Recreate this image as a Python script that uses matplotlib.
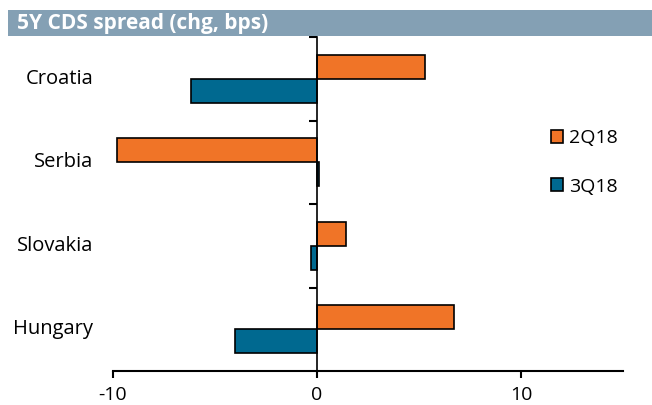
import numpy as np
import matplotlib
matplotlib.use('Agg')
import matplotlib.pyplot as plt
from matplotlib.patches import Rectangle, Patch
import matplotlib.transforms as mtransforms

plt.rcParams['font.family'] = ['Open Sans', 'DejaVu Sans']

# data
countries = ['Croatia', 'Serbia', 'Slovakia', 'Hungary']
q2_18 = [5.3, -9.8, 1.4, 6.7]
q3_18 = [-6.2, 0.1, -0.3, -4.0]
series_names = ['2Q18', '3Q18']
xticks = [-10, 0, 10]

orange = '#F07427'
blue = '#006990'
header_col = '#84A0B4'

fig = plt.figure(figsize=(6.52, 4.05), dpi=100)
ax = fig.add_axes([113 / 652, 1 - 371 / 405, 510 / 652, 334 / 405])

# top category first
y = np.arange(len(countries))[::-1]
h = 0.29
ax.barh(y + h / 2, q2_18, height=h, color=orange, edgecolor='black', linewidth=1.2, label=series_names[0])
ax.barh(y - h / 2, q3_18, height=h, color=blue, edgecolor='black', linewidth=1.2, label=series_names[1])

ax.set_xlim(-10, 15)
ax.set_ylim(-0.5, len(countries) - 0.5)

for s in ['top', 'right']:
    ax.spines[s].set_visible(False)
ax.spines['left'].set_position(('data', 0))
ax.spines['left'].set_linewidth(1.2)
ax.spines['bottom'].set_linewidth(1.5)

ax.set_xticks(xticks)
ax.set_xticklabels([str(v) for v in xticks], fontsize=14)
ax.tick_params(axis='x', direction='out', length=5, width=1.5, pad=6)

ax.set_yticks(np.arange(len(countries)) + 0.5)
ax.set_yticklabels([])
ax.tick_params(axis='y', direction='out', length=6, width=1.5)

trans = mtransforms.blended_transform_factory(ax.transAxes, ax.transData)
for yi, name in zip(y, countries):
    ax.text(-0.039, yi, name, transform=trans, ha='right', va='center', fontsize=14.5)

handles = [Patch(facecolor=orange, edgecolor='black', linewidth=1.2),
           Patch(facecolor=blue, edgecolor='black', linewidth=1.2)]
fig.legend(handles, series_names, loc='center left', bbox_to_anchor=(551 / 652, 1 - 162.5 / 405),
           frameon=False, fontsize=14, handlelength=0.62, handleheight=0.62,
           handletextpad=0.3, labelspacing=1.55, borderpad=0, borderaxespad=0)

# header strip
fig.patches.append(Rectangle((8 / 652, 1 - 36 / 405), 1 - 8 / 652, 26 / 405,
                             transform=fig.transFigure, facecolor=header_col,
                             edgecolor='none', zorder=0))
fig.text(17 / 652, 1 - 23 / 405, '5Y CDS spread (chg, bps)', color='white',
         fontsize=15, fontweight='bold', va='center', ha='left')

fig.savefig('out.png', dpi=100)
